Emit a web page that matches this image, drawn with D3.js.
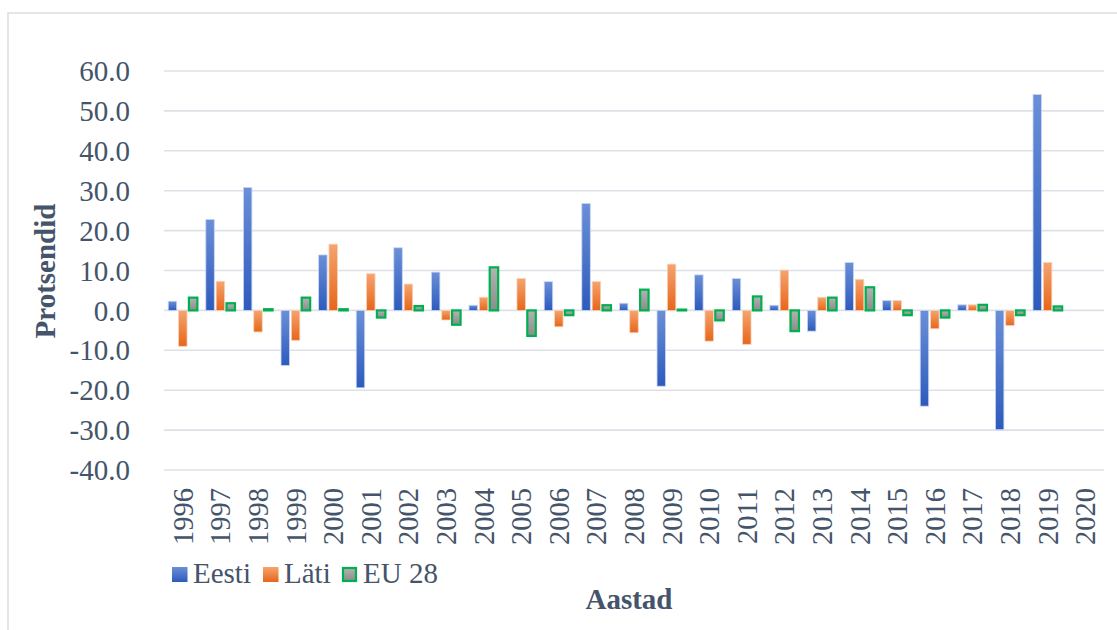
<!DOCTYPE html>
<html>
<head>
<meta charset="utf-8">
<script src="https://cdn.jsdelivr.net/npm/d3@7"></script>
<style>
  body { margin: 0; background: #fff; }
  text { font-family: "Liberation Serif", "Times New Roman", serif; fill: #44546a; }
</style>
</head>
<body>
<script>
// data
const years = ["1996","1997","1998","1999","2000","2001","2002","2003","2004","2005","2006","2007","2008",
               "2009","2010","2011","2012","2013","2014","2015","2016","2017","2018","2019","2020"];
const eesti = [2.3, 22.8, 30.8, -13.8, 13.9, -19.4, 15.7, 9.6, 1.3, null, 7.2, 26.8, 1.8,
               -19.0, 8.9, 8.0, 1.3, -5.2, 12.0, 2.5, -24.0, 1.4, -29.9, 54.1, null];
const lati = [-9.0, 7.3, -5.4, -7.5, 16.6, 9.2, 6.6, -2.4, 3.3, 8.0, -4.1, 7.2, -5.6,
              11.6, -7.7, -8.5, 10.1, 3.3, 7.8, 2.5, -4.6, 1.4, -3.8, 12.0, null];
const eu28 = [3.2, 1.8, 0.3, 3.2, 0.3, -1.8, 1.1, -3.6, 10.8, -6.4, -1.2, 1.3, 5.2,
              0.2, -2.5, 3.5, -5.2, 3.2, 5.8, -1.2, -1.8, 1.4, -1.2, 1.0, null];
const seriesNames = ["Eesti", "Läti", "EU 28"];
const yTicks = [-40, -30, -20, -10, 0, 10, 20, 30, 40, 50, 60];

const width = 1117, height = 630;
const svg = d3.select("body").append("svg")
    .attr("width", width)
    .attr("height", height);

const defs = svg.append("defs");
function grad(id, top, bottom) {
    const g = defs.append("linearGradient").attr("id", id)
        .attr("x1", 0).attr("y1", 0).attr("x2", 0).attr("y2", 1);
    g.append("stop").attr("offset", "0%").attr("stop-color", top);
    g.append("stop").attr("offset", "100%").attr("stop-color", bottom);
}
grad("gBlue", "#6b8fd7", "#2d5bbd");
grad("gOrange", "#f5a46f", "#e7661a");
grad("gGrey", "#b3b3b3", "#8c8c8c");

const styles = {
    "Eesti": { fill: "url(#gBlue)", stroke: "#c9d6f0", sw: 0.8 },
    "Läti": { fill: "url(#gOrange)", stroke: "#f8d2b8", sw: 0.8 },
    "EU 28": { fill: "url(#gGrey)", stroke: "#00b050", sw: 2.2 }
};

// outer chart frame (runs off the picture on right and bottom)
svg.append("rect")
    .attr("x", 8).attr("y", 13)
    .attr("width", 1200).attr("height", 700)
    .attr("fill", "none")
    .attr("stroke", "#d9dee5")
    .attr("stroke-width", 1.5);

const left = 164, right = 1104;
const y = d3.scaleLinear().domain([-40, 60]).range([470, 71]);
const x0 = d3.scaleBand().domain(years).range([left, right])
    .paddingInner(0.175).paddingOuter(0.0875);
const x1 = d3.scaleBand().domain(seriesNames).range([0, x0.bandwidth()])
    .paddingInner(0.18).paddingOuter(0.09);

// gridlines
svg.append("g").selectAll("line")
    .data(yTicks)
    .join("line")
    .attr("x1", left).attr("x2", right)
    .attr("y1", d => y(d)).attr("y2", d => y(d))
    .attr("stroke", "#dde1e7")
    .attr("stroke-width", 1.6);

// y tick labels
svg.append("g").selectAll("text")
    .data(yTicks)
    .join("text")
    .attr("x", 130)
    .attr("y", d => y(d))
    .attr("dy", "0.35em")
    .attr("text-anchor", "end")
    .style("font-size", "29px")
    .text(d => d.toFixed(1));

// bars
const rows = [];
years.forEach((yr, i) => {
    [[ "Eesti", eesti[i] ], [ "Läti", lati[i] ], [ "EU 28", eu28[i] ]].forEach(([s, v]) => {
        if (v !== null) rows.push({ year: yr, series: s, value: v });
    });
});

svg.append("g").selectAll("rect")
    .data(rows)
    .join("rect")
    .attr("x", d => x0(d.year) + x1(d.series))
    .attr("width", x1.bandwidth())
    .attr("y", d => y(Math.max(0, d.value)))
    .attr("height", d => Math.max(0.8, Math.abs(y(d.value) - y(0))))
    .attr("fill", d => styles[d.series].fill)
    .attr("stroke", d => styles[d.series].stroke)
    .attr("stroke-width", d => styles[d.series].sw);

// x labels (rotated)
svg.append("g").selectAll("text")
    .data(years)
    .join("text")
    .attr("transform", d => `translate(${x0(d) + x0.bandwidth() / 2},488) rotate(-90)`)
    .attr("dy", "0.35em")
    .attr("text-anchor", "end")
    .style("font-size", "28.5px")
    .text(d => d);

// axis titles
svg.append("text")
    .attr("transform", "translate(45,271) rotate(-90)")
    .attr("dy", "0.35em")
    .attr("text-anchor", "middle")
    .style("font-size", "29px")
    .style("font-weight", "bold")
    .text("Protsendid");

svg.append("text")
    .attr("x", 629).attr("y", 609)
    .attr("text-anchor", "middle")
    .style("font-size", "29px")
    .style("font-weight", "bold")
    .text("Aastad");

// legend
const legendX = [172, 263, 342];
const leg = svg.append("g").selectAll("g")
    .data(seriesNames)
    .join("g")
    .attr("transform", (d, i) => `translate(${legendX[i]},567)`);
leg.append("rect")
    .attr("x", d => d === "EU 28" ? 1 : 0)
    .attr("y", d => d === "EU 28" ? 1 : 0)
    .attr("width", d => d === "EU 28" ? 13 : 15.5)
    .attr("height", d => d === "EU 28" ? 13 : 15)
    .attr("fill", d => styles[d].fill)
    .attr("stroke", d => d === "EU 28" ? "#00b050" : "none")
    .attr("stroke-width", 2.2);
leg.append("text")
    .attr("x", 21)
    .attr("y", 15.7)
    .style("font-size", "29px")
    .text(d => d);
</script>
</body>
</html>
